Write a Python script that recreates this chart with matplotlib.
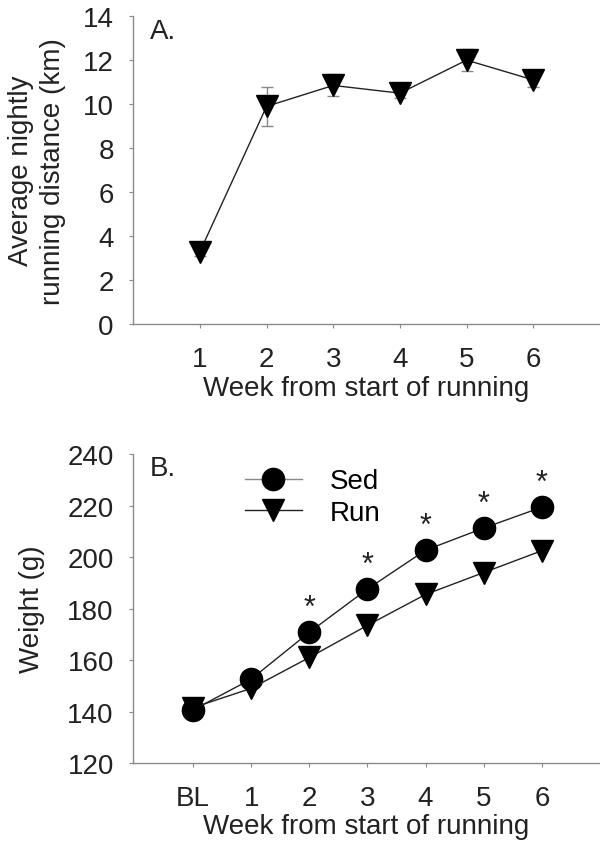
import matplotlib.pyplot as plt

plt.rcParams['font.family'] = ['Liberation Sans', 'DejaVu Sans']

# Panel A: running distance
weeks_a = [1, 2, 3, 4, 5, 6]
distance = [3.3, 9.9, 10.85, 10.5, 12.0, 11.1]
distance_err = [0.2, 0.9, 0.5, 0.2, 0.5, 0.3]

# Panel B: body weight
week_labels = ["BL", "1", "2", "3", "4", "5", "6"]
weeks_b = [0, 1, 2, 3, 4, 5, 6]
sed_weight = [140.6, 152.6, 170.8, 187.6, 202.7, 211.3, 219.4]
run_weight = [141.5, 149.0, 161.0, 173.5, 185.5, 194.0, 202.5]
sig_weeks = [2, 3, 4, 5, 6]

fs = 20
txt = "#222222"
fig = plt.figure(figsize=(6, 8.54), dpi=100)
ax1 = fig.add_axes([0.222, 0.619, 0.778, 0.361])
ax2 = fig.add_axes([0.222, 0.1054, 0.778, 0.3616])

spine_col = "#8a8a8a"
for ax in (ax1, ax2):
    for s in ("top", "right"):
        ax.spines[s].set_visible(False)
    for s in ("left", "bottom"):
        ax.spines[s].set_color(spine_col)
        ax.spines[s].set_linewidth(1.0)
    ax.tick_params(direction="out", length=3, color=spine_col, labelsize=fs,
                   labelcolor=txt)
    ax.tick_params(axis="x", pad=12.5)
    ax.tick_params(axis="y", pad=11)

# panel A
ax1.errorbar(weeks_a, distance, yerr=distance_err, fmt="none", ecolor="#888888",
             elinewidth=1, capsize=4, capthick=1, zorder=2)
ax1.plot(weeks_a, distance, color=txt, lw=1, marker="v", ms=16.5,
         mfc="black", mec="black", zorder=3)
ax1.set_xlim(0, 7)
ax1.set_ylim(0, 14)
ax1.set_xticks(weeks_a)
ax1.set_yticks(range(0, 15, 2))
ax1.set_xlabel("Week from start of running", fontsize=fs, labelpad=2, color=txt)
ax1.set_ylabel("Average nightly\nrunning distance (km)", fontsize=fs, labelpad=12,
               linespacing=1.3, color=txt)
ax1.text(0.036, 0.95, "A.", transform=ax1.transAxes, fontsize=fs, va="center",
         color=txt)

# panel B
ax2.plot(weeks_b, sed_weight, color=txt, lw=1, marker="o", ms=16,
         mfc="black", mec="black", label="Sed", zorder=3)
ax2.plot(weeks_b, run_weight, color=txt, lw=1, marker="v", ms=16.5,
         mfc="black", mec="black", label="Run", zorder=3)
for w in sig_weeks:
    ax2.text(w, sed_weight[w] + 9.5, "*", ha="center", va="center", fontsize=22,
             color=txt)
ax2.set_xlim(-1.03, 7)
ax2.set_ylim(120, 240)
ax2.set_xticks(weeks_b)
ax2.set_xticklabels(week_labels)
ax2.set_yticks(range(120, 241, 20))
ax2.set_xlabel("Week from start of running", fontsize=fs, labelpad=2, color=txt)
ax2.set_ylabel("Weight (g)", fontsize=fs, labelpad=16, color=txt)
ax2.text(0.036, 0.955, "B.", transform=ax2.transAxes, fontsize=fs, va="center",
         color=txt)
leg = ax2.legend(loc="upper left", bbox_to_anchor=(0.185, 1.035), frameon=False,
                 fontsize=fs, handlelength=2.05, handletextpad=1.0, labelspacing=0.2)
leg.get_lines()[0].set_color("#888888")
leg.get_lines()[0].set_markerfacecolor("black")
leg.get_lines()[0].set_markeredgecolor("black")

fig.savefig("out.png", dpi=100)
